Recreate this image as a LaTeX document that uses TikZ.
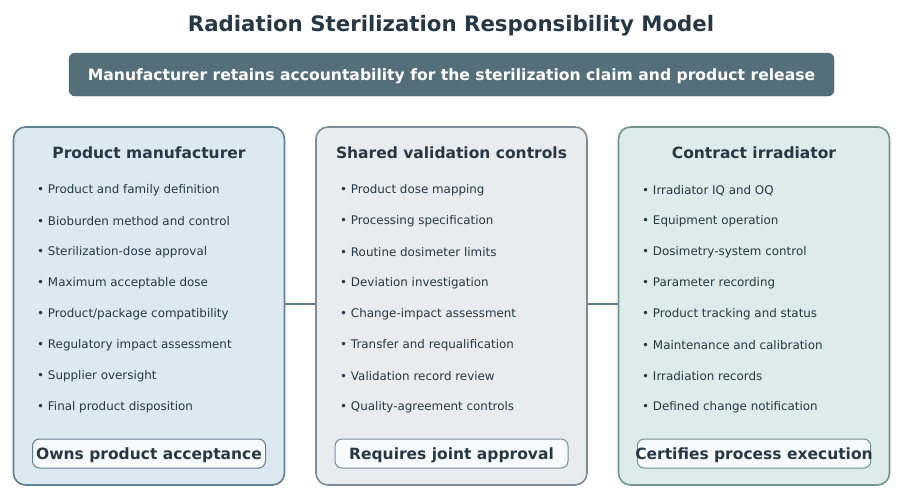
\documentclass[tikz,border=0pt]{standalone}
\usepackage{fontspec}
\setmainfont{DejaVu Sans}
\usetikzlibrary{positioning}

\definecolor{inkdark}{HTML}{263845}
\definecolor{bannerfill}{HTML}{546E7A}
\definecolor{pmfill}{HTML}{DDE9F0}
\definecolor{pmline}{HTML}{5F7F92}
\definecolor{svfill}{HTML}{E8ECEF}
\definecolor{svline}{HTML}{7B8D99}
\definecolor{cifill}{HTML}{DDEBEA}
\definecolor{ciline}{HTML}{6F958C}
\definecolor{badgefill}{HTML}{F7FAFB}

\tikzset{
  panel/.style={draw, line width=1.6pt, rounded corners=12pt, minimum width=271pt, minimum height=358pt, inner sep=0pt},
  heading/.style={font=\bfseries\fontsize{15.5}{18}\selectfont, text=inkdark},
  item/.style={anchor=west, font=\fontsize{11.9}{14}\selectfont, text=inkdark, inner sep=0pt},
  badge/.style={draw, fill=badgefill, line width=1pt, rounded corners=7pt, minimum width=233pt, minimum height=29pt, inner sep=1pt, text height=16pt, text depth=3.7pt, font=\bfseries\fontsize{15.5}{18}\selectfont, text=inkdark},
  link/.style={draw=pmline, line width=2pt}
}

\begin{document}
\begin{tikzpicture}[x=1pt,y=-1pt]

  \useasboundingbox[fill=white] (0,0) rectangle (900,498);

  \node[font=\bfseries\fontsize{21.3}{25}\selectfont, text=inkdark] (title) at (451,25.5) {Radiation Sterilization Responsibility Model};

  \node[fill=bannerfill, draw=bannerfill!85!black, rounded corners=6pt, minimum width=765pt, minimum height=43pt, text height=16pt, text depth=3.7pt, text=white, font=\bfseries\fontsize{15.6}{18}\selectfont] (banner) at (451.5,74.5) {Manufacturer retains accountability for the sterilization claim and product release};

  % panels
  \node[panel, fill=pmfill, draw=pmline] (pm) at (149,306) {};
  \node[panel, fill=svfill, draw=svline] (sv) at (451.5,306) {};
  \node[panel, fill=cifill, draw=ciline] (ci) at (754,306) {};

  \path[link] (pm.east |- 0,304) -- (sv.west |- 0,304);
  \path[link] (sv.east |- 0,304) -- (ci.west |- 0,304);

  \node[heading] (pmhead) at (149,153) {Product manufacturer};
  \node[heading] (svhead) at (451.5,153) {Shared validation controls};
  \node[heading] (cihead) at (754,153) {Contract irradiator};

  \foreach \txt [count=\i] in {Product and family definition, Bioburden method and control, Sterilization-dose approval, Maximum acceptable dose, Product/package compatibility, Regulatory impact assessment, Supplier oversight, Final product disposition}
    \node[item] (pm\i) at (37,159.5+31*\i) {• \txt};

  \foreach \txt [count=\i] in {Product dose mapping, Processing specification, Routine dosimeter limits, Deviation investigation, Change-impact assessment, Transfer and requalification, Validation record review, Quality-agreement controls}
    \node[item] (sv\i) at (340,159.5+31*\i) {• \txt};

  \foreach \txt [count=\i] in {Irradiator IQ and OQ, Equipment operation, Dosimetry-system control, Parameter recording, Product tracking and status, Maintenance and calibration, Irradiation records, Defined change notification}
    \node[item] (ci\i) at (642,159.5+31*\i) {• \txt};

  % badges
  \node[badge, draw=pmline] (pmbadge) at (149,453.5) {Owns product acceptance};
  \node[badge, draw=svline] (svbadge) at (451.5,453.5) {Requires joint approval};
  \node[badge, draw=ciline, inner xsep=-2pt] (cibadge) at (754,453.5) {Certifies process execution};

\end{tikzpicture}
\end{document}
